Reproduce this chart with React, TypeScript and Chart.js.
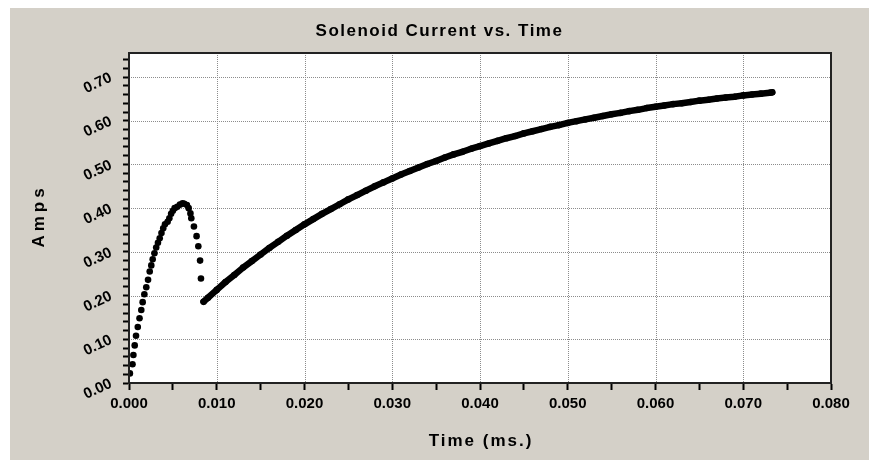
import React, { useEffect, useRef } from "react";
import { Chart, registerables } from "chart.js";

Chart.register(...registerables);

const TITLE = "Solenoid Current vs. Time";
const X_TITLE = "Time (ms.)";
const Y_TITLE = "Amps";

const xTickLabels = ["0.000", "0.010", "0.020", "0.030", "0.040", "0.050", "0.060", "0.070", "0.080"];
const yTickLabels = ["0.00", "0.10", "0.20", "0.30", "0.40", "0.50", "0.60", "0.70"];

// first pulse (individual samples)
const pulseTime = [
  0.0001, 0.0004, 0.0005, 0.00065, 0.0008, 0.001, 0.0012, 0.0014, 0.00156, 0.00175,
  0.00197, 0.00217, 0.00236, 0.00254, 0.0027, 0.0029, 0.0031, 0.0033, 0.0035, 0.0037,
  0.0039, 0.0041, 0.0044, 0.0046, 0.0048, 0.005, 0.0052, 0.0055, 0.0058, 0.0061,
  0.0063, 0.0066, 0.0068, 0.007, 0.0071, 0.0074, 0.0077, 0.0079, 0.0081, 0.0082,
];
const pulseAmps = [
  0.022, 0.043, 0.064, 0.086, 0.108, 0.128, 0.148, 0.167, 0.185, 0.203,
  0.219, 0.236, 0.255, 0.269, 0.283, 0.297, 0.31, 0.321, 0.331, 0.343,
  0.354, 0.363, 0.369, 0.377, 0.387, 0.394, 0.4, 0.403, 0.408, 0.411,
  0.41, 0.407, 0.4, 0.388, 0.377, 0.358, 0.336, 0.313, 0.28, 0.239,
];

// second, dense ramp
const rampTime = [
  0.0085, 0.009, 0.01, 0.011, 0.012, 0.013, 0.014, 0.015, 0.016, 0.017,
  0.018, 0.019, 0.02, 0.021, 0.022, 0.023, 0.024, 0.025, 0.026, 0.027,
  0.028, 0.029, 0.03, 0.031, 0.032, 0.033, 0.034, 0.035, 0.036, 0.037,
  0.038, 0.039, 0.04, 0.041, 0.042, 0.043, 0.044, 0.045, 0.046, 0.047,
  0.048, 0.049, 0.05, 0.051, 0.052, 0.053, 0.054, 0.055, 0.056, 0.057,
  0.058, 0.059, 0.06, 0.061, 0.062, 0.063, 0.064, 0.065, 0.066, 0.067,
  0.068, 0.069, 0.07, 0.071, 0.072, 0.073, 0.0733,
];
const rampAmps = [
  0.186, 0.195, 0.213, 0.231, 0.247, 0.264, 0.279, 0.294, 0.309, 0.323,
  0.337, 0.35, 0.363, 0.375, 0.387, 0.398, 0.409, 0.42, 0.43, 0.44,
  0.45, 0.459, 0.468, 0.477, 0.485, 0.493, 0.501, 0.508, 0.516, 0.523,
  0.529, 0.536, 0.542, 0.548, 0.554, 0.56, 0.565, 0.571, 0.576, 0.581,
  0.586, 0.59, 0.595, 0.599, 0.603, 0.607, 0.611, 0.615, 0.618, 0.622,
  0.625, 0.629, 0.632, 0.635, 0.638, 0.64, 0.643, 0.646, 0.648, 0.651,
  0.653, 0.655, 0.658, 0.66, 0.662, 0.664, 0.665,
];

const X_MIN = 0;
const X_MAX = 0.08;
const Y_MIN = 0;
const Y_MAX = 0.755;

const FONT = '"Liberation Sans", Arial, sans-serif';

const decorPlugin = {
  id: "decor",
  beforeDatasetsDraw(chart: any) {
    const { ctx, chartArea: a, scales } = chart;
    ctx.save();
    ctx.fillStyle = "#ffffff";
    ctx.fillRect(a.left, a.top, a.right - a.left, a.bottom - a.top);
    ctx.strokeStyle = "#8c8c8c";
    ctx.lineWidth = 1;
    ctx.setLineDash([1, 1]);
    xTickLabels.forEach((l) => {
      const px = Math.round(scales.x.getPixelForValue(parseFloat(l))) + 0.5;
      if (px <= a.left + 2 || px >= a.right - 2) return;
      ctx.beginPath();
      ctx.moveTo(px, a.top);
      ctx.lineTo(px, a.bottom);
      ctx.stroke();
    });
    yTickLabels.forEach((l) => {
      const py = Math.round(scales.y.getPixelForValue(parseFloat(l))) + 0.5;
      if (py <= a.top + 2 || py >= a.bottom - 2) return;
      ctx.beginPath();
      ctx.moveTo(a.left, py);
      ctx.lineTo(a.right, py);
      ctx.stroke();
    });
    ctx.restore();
  },
  afterDraw(chart: any) {
    const { ctx, chartArea: a, width } = chart;
    ctx.save();
    // frame
    ctx.strokeStyle = "#222222";
    ctx.lineWidth = 2;
    ctx.setLineDash([]);
    ctx.strokeRect(a.left, a.top, a.right - a.left, a.bottom - a.top);
    // title
    ctx.fillStyle = "#000000";
    ctx.textAlign = "center";
    ctx.textBaseline = "middle";
    ctx.font = `bold 17px ${FONT}`;
    (ctx as any).letterSpacing = "1.5px";
    ctx.fillText(TITLE, width / 2, 23);
    // x title
    ctx.font = `bold 17px ${FONT}`;
    (ctx as any).letterSpacing = "2px";
    ctx.textBaseline = "alphabetic";
    ctx.fillText(X_TITLE, (a.left + a.right) / 2 + 1, 438);
    // y title
    (ctx as any).letterSpacing = "4px";
    ctx.translate(29.5, (a.top + a.bottom) / 2);
    ctx.rotate(-Math.PI / 2);
    ctx.textBaseline = "middle";
    ctx.fillText(Y_TITLE, 2, 0);
    ctx.restore();
  },
};

export default function App() {
  const ref = useRef<HTMLCanvasElement | null>(null);

  useEffect(() => {
    if (!ref.current) return;
    const pulse = pulseTime.map((t, i) => ({ x: t, y: pulseAmps[i] }));
    const ramp = rampTime.map((t, i) => ({ x: t, y: rampAmps[i] }));
    const chart = new Chart(ref.current, {
      type: "scatter",
      data: {
        datasets: [
          {
            label: "pulse",
            data: pulse,
            showLine: false,
            pointRadius: 3.3,
            pointBorderWidth: 0,
            pointBackgroundColor: "#000000",
            pointBorderColor: "#000000",
          },
          {
            label: "ramp",
            data: ramp,
            showLine: true,
            borderColor: "#000000",
            borderWidth: 6.5,
            borderCapStyle: "round",
            borderJoinStyle: "round",
            pointRadius: 3.3,
            pointBorderWidth: 0,
            pointBackgroundColor: "#000000",
            pointBorderColor: "#000000",
          },
        ],
      },
      options: {
        responsive: false,
        animation: false,
        layout: { padding: { top: 45, right: 38, left: 0, bottom: 0 } },
        plugins: {
          legend: { display: false },
          title: { display: false },
          tooltip: { enabled: false },
        },
        scales: {
          x: {
            type: "linear",
            min: X_MIN,
            max: X_MAX,
            afterFit: (s: any) => {
              s.height = 77;
            },
            border: { display: true, color: "#000000", width: 2 },
            grid: {
              drawOnChartArea: false,
              drawTicks: true,
              tickLength: 7,
              tickColor: "#000000",
              tickWidth: 2,
            },
            ticks: {
              stepSize: 0.005,
              autoSkip: false,
              includeBounds: false,
              maxRotation: 0,
              minRotation: 0,
              padding: 5,
              color: "#000000",
              font: { family: FONT, size: 15, weight: "bold" },
              callback: (v: any) => {
                const k = Number(v) * 100;
                const r = Math.round(k);
                return Math.abs(k - r) < 1e-6 ? xTickLabels[r] ?? "" : "";
              },
            },
          },
          y: {
            type: "linear",
            min: Y_MIN,
            max: Y_MAX,
            afterFit: (s: any) => {
              s.width = 119;
            },
            border: { display: true, color: "#000000", width: 2 },
            grid: {
              drawOnChartArea: false,
              drawTicks: true,
              tickLength: 6,
              tickColor: "#000000",
              tickWidth: 2,
            },
            ticks: {
              stepSize: 0.02,
              autoSkip: false,
              includeBounds: false,
              minRotation: 25,
              maxRotation: 25,
              padding: 12,
              color: "#000000",
              font: { family: FONT, size: 15, weight: "bold" },
              callback: (v: any) => {
                const k = Number(v) * 10;
                const r = Math.round(k);
                return Math.abs(k - r) < 1e-6 ? yTickLabels[r] ?? "" : "";
              },
            },
          },
        },
      },
      plugins: [decorPlugin],
    } as any);
    return () => chart.destroy();
  }, []);

  return (
    <div
      style={{
        position: "fixed",
        left: 10,
        top: 8,
        width: 859,
        height: 452,
        background: "#D4D0C8",
      }}
    >
      <canvas ref={ref} width={859} height={452} style={{ display: "block" }} />
    </div>
  );
}
